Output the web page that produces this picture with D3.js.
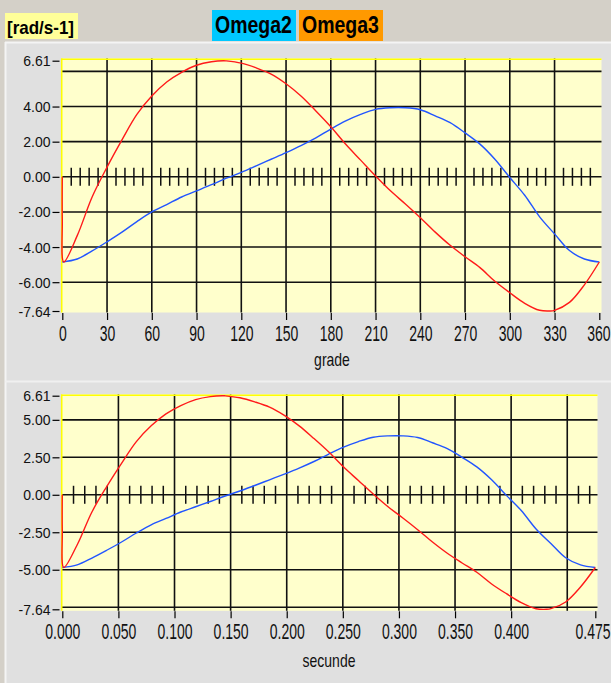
<!DOCTYPE html>
<html><head><meta charset="utf-8">
<script src="https://cdn.jsdelivr.net/npm/d3@7"></script>
<style>
body{margin:0;background:#d4d0c8;}
svg{display:block;}
text{font-family:"Liberation Sans",Arial,sans-serif;}
</style>
</head><body><svg id="c" width="611" height="683"></svg>
<script>
// ---------------- DATA ----------------
const legendUnit = "[rad/s-1]";
const seriesNames = ["Omega2", "Omega3"];

// Omega2 (blue) samples
const degBlue = [0,10,20,30,40,50,60,70,80,90,100,110,120,130,140,150,160,170,180,190,200,210,220,230,240,250,260,270,280,290,300,310,320,330,340,350,360];
const secBlue = [0,0.0132,0.0264,0.0396,0.0528,0.0660,0.0792,0.0924,0.1056,0.1188,0.1319,0.1451,0.1583,0.1715,0.1847,0.1979,0.2111,0.2243,0.2375,0.2507,0.2639,0.2771,0.2903,0.3035,0.3167,0.3299,0.3431,0.3563,0.3694,0.3826,0.3958,0.4090,0.4222,0.4354,0.4486,0.4618,0.4750];
const omega2 = [-4.85,-4.68,-4.22,-3.7,-3.15,-2.55,-2.0,-1.58,-1.15,-0.8,-0.45,-0.08,0.25,0.62,1.0,1.38,1.78,2.22,2.72,3.18,3.55,3.84,3.93,3.93,3.82,3.47,3.08,2.5,1.86,1.0,-0.04,-1.05,-2.28,-3.25,-4.2,-4.68,-4.85];

// Omega3 (red) samples
const degRed = [0,0,1,10,20,30,40,50,60,70,80,90,100,108,110,120,130,140,150,160,170,180,190,200,210,220,230,240,250,260,270,280,290,300,310,320,327,330,340,350,360];
const secRed = [0,0,0.0013,0.0132,0.0264,0.0396,0.0528,0.0660,0.0792,0.0924,0.1056,0.1188,0.1319,0.1425,0.1451,0.1583,0.1715,0.1847,0.1979,0.2111,0.2243,0.2375,0.2507,0.2639,0.2771,0.2903,0.3035,0.3167,0.3299,0.3431,0.3563,0.3694,0.3826,0.3958,0.4090,0.4222,0.4315,0.4354,0.4486,0.4618,0.4750];
const omega3 = [0,-2.4,-4.85,-3.35,-1.15,0.55,2.1,3.55,4.6,5.4,5.95,6.35,6.55,6.61,6.6,6.47,6.2,5.85,5.3,4.6,3.75,2.85,1.85,0.95,0.05,-0.8,-1.55,-2.33,-3.15,-3.9,-4.55,-5.17,-5.95,-6.6,-7.2,-7.6,-7.64,-7.6,-7.15,-6.15,-4.85];

// Axis ticks
const yMin = -7.64, yMax = 6.61;
const topXTicks = [0,30,60,90,120,150,180,210,240,270,300,330,360];
const topYTicks = [6.61,4,2,0,-2,-4,-6,-7.64];
const topYGrid = [6,4,2,0,-2,-4,-6];
const botXTicks = [0,0.05,0.1,0.15,0.2,0.25,0.3,0.35,0.4,0.475];
const botXGrid = [0.05,0.1,0.15,0.2,0.25,0.3,0.35,0.4,0.45];
const botYTicks = [6.61,5,2.5,0,-2.5,-5,-7.64];
const botYGrid = [5,2.5,0,-2.5,-5,-7.5];

// ---------------- DRAW ----------------
const svg = d3.select("#c");
svg.append("rect").attr("width",611).attr("height",683).attr("fill","#d4d0c8");
svg.append("rect").attr("x",5).attr("y",42).attr("width",606).attr("height",641).attr("fill","#e0e0e0");
svg.append("line").attr("x1",5).attr("x2",611).attr("y1",42.5).attr("y2",42.5).attr("stroke","#f4f4f4").attr("stroke-width",2);
svg.append("line").attr("x1",5.5).attr("x2",5.5).attr("y1",42).attr("y2",683).attr("stroke","#f4f4f4").attr("stroke-width",2);
svg.append("line").attr("x1",5).attr("x2",611).attr("y1",381.5).attr("y2",381.5).attr("stroke","#f0f0f0").attr("stroke-width",2);

// legend
svg.append("rect").attr("x",5).attr("y",13).attr("width",73).attr("height",26).attr("fill","#ffff99");
svg.append("text").attr("transform","translate(7,33.5) scale(1,1.1)").attr("font-size",17).attr("font-weight","bold").attr("fill","#000").text(legendUnit);
const legColors = ["#00c8ff","#ff9900"];
const legX = [212, 299];
seriesNames.forEach((n,i)=>{
  svg.append("rect").attr("x",legX[i]).attr("y",10).attr("width",84).attr("height",31).attr("fill",legColors[i]);
  svg.append("text").attr("transform",`translate(${legX[i]+3},33) scale(1,1.2)`)
    .attr("font-size",19.5).attr("font-weight","bold").attr("fill","#000").text(n);
});

const fmt2 = d => d3.format(".2f")(d).replace("\u2212","-").replace("-0.00","0.00");

function panel(cfg){
  const g = svg.append("g");
  const x = d3.scaleLinear().domain(cfg.xDomain).range(cfg.xRange);
  const y = d3.scaleLinear().domain([yMin,yMax]).range(cfg.yRange);
  const [L,T,R,B] = cfg.box;
  g.append("rect").attr("x",L).attr("y",T).attr("width",R-L).attr("height",B-T).attr("fill","#ffffcc");
  // grid
  g.selectAll(".gx").data(cfg.xGrid).join("line")
    .attr("x1",d=>x(d)).attr("x2",d=>x(d)).attr("y1",T).attr("y2",B)
    .attr("stroke","#111").attr("stroke-width",1.6);
  g.selectAll(".gy").data(cfg.yGrid).join("line")
    .attr("x1",L).attr("x2",R).attr("y1",d=>y(d)).attr("y2",d=>y(d))
    .attr("stroke","#111").attr("stroke-width",1.6);
  // minor ticks on zero line
  g.selectAll(".mt").data(cfg.minor).join("line")
    .attr("x1",d=>x(d)).attr("x2",d=>x(d)).attr("y1",y(0)-9).attr("y2",y(0)+9)
    .attr("stroke","#111").attr("stroke-width",1.5);
  // yellow border
  g.append("line").attr("x1",L).attr("x2",R).attr("y1",T+0.7).attr("y2",T+0.7).attr("stroke","#ffff00").attr("stroke-width",1.6);
  g.append("line").attr("x1",L+0.7).attr("x2",L+0.7).attr("y1",T).attr("y2",B).attr("stroke","#ffff00").attr("stroke-width",1.6);
  // series
  const line = d3.line().x(d=>x(d[0])).y(d=>y(d[1])).curve(d3.curveCatmullRom.alpha(0.5));
  g.append("path").datum(cfg.blueX.map((v,i)=>[v,omega2[i]])).attr("d",line)
    .attr("fill","none").attr("stroke","#2255ff").attr("stroke-width",1.4);
  g.append("path").datum(cfg.redX.map((v,i)=>[v,omega3[i]])).attr("d",line)
    .attr("fill","none").attr("stroke","#ff1a1a").attr("stroke-width",1.4);
  // axes
  const ya = g.append("g").attr("transform",`translate(${L-1.5},0)`)
    .call(d3.axisLeft(y).tickValues(cfg.yTicks).tickSize(7).tickSizeOuter(0).tickFormat(fmt2));
  ya.select(".domain").remove();
  ya.selectAll("line").attr("stroke","#000").attr("stroke-width",1.2);
  ya.selectAll("text").attr("font-size",14).attr("fill","#111").attr("x",-9).attr("dy","0.36em")
    .style("font-family",'"Liberation Sans",Arial,sans-serif');
  const xa = g.append("g").attr("transform",`translate(0,${B+0.5})`)
    .call(d3.axisBottom(x).tickValues(cfg.xTicks).tickSize(7).tickSizeOuter(0).tickFormat(cfg.xFormat));
  xa.select(".domain").remove();
  xa.selectAll("line").attr("stroke","#000").attr("stroke-width",1.2);
  xa.selectAll("text").attr("font-size",14).attr("fill","#111").attr("y",28/1.6).attr("dy",0)
    .attr("transform","scale(1,1.6)").style("font-family",'"Liberation Sans",Arial,sans-serif');
  if (cfg.lastEnd) {
    xa.selectAll("text").filter(d=>d===cfg.xTicks[cfg.xTicks.length-1])
      .attr("text-anchor","end").attr("x",611 - x(cfg.xTicks[cfg.xTicks.length-1]) - 1);
  }
  svg.append("text").attr("transform",`translate(${cfg.label[1]},${cfg.label[2]}) scale(1,1.25)`)
    .attr("text-anchor","middle").attr("font-size",14).attr("fill","#111").text(cfg.label[0]);
}

panel({
  xDomain:[0,360], xRange:[62.3,599.3], yRange:[311,60.7], box:[61,58.5,601.5,312.5],
  xGrid:[30,60,90,120,150,180,210,240,270,300,330], yGrid:topYGrid,
  minor:d3.range(6,360,6).filter(d=>d%30!==0),
  blueX:degBlue, redX:degRed, yTicks:topYTicks, xTicks:topXTicks, xFormat:d3.format("d"),
  label:["grade",332,366], lastEnd:true
});
panel({
  xDomain:[0,0.475], xRange:[62.3,595.3], yRange:[609.3,395.7], box:[61,394.5,597.5,610.8],
  xGrid:botXGrid, yGrid:botYGrid,
  minor:d3.range(1,48).filter(k=>k%5!==0).map(k=>k/100),
  blueX:secBlue, redX:secRed, yTicks:botYTicks, xTicks:botXTicks, xFormat:d3.format(".3f"),
  label:["secunde",329,667], lastEnd:true
});
</script></body></html>
